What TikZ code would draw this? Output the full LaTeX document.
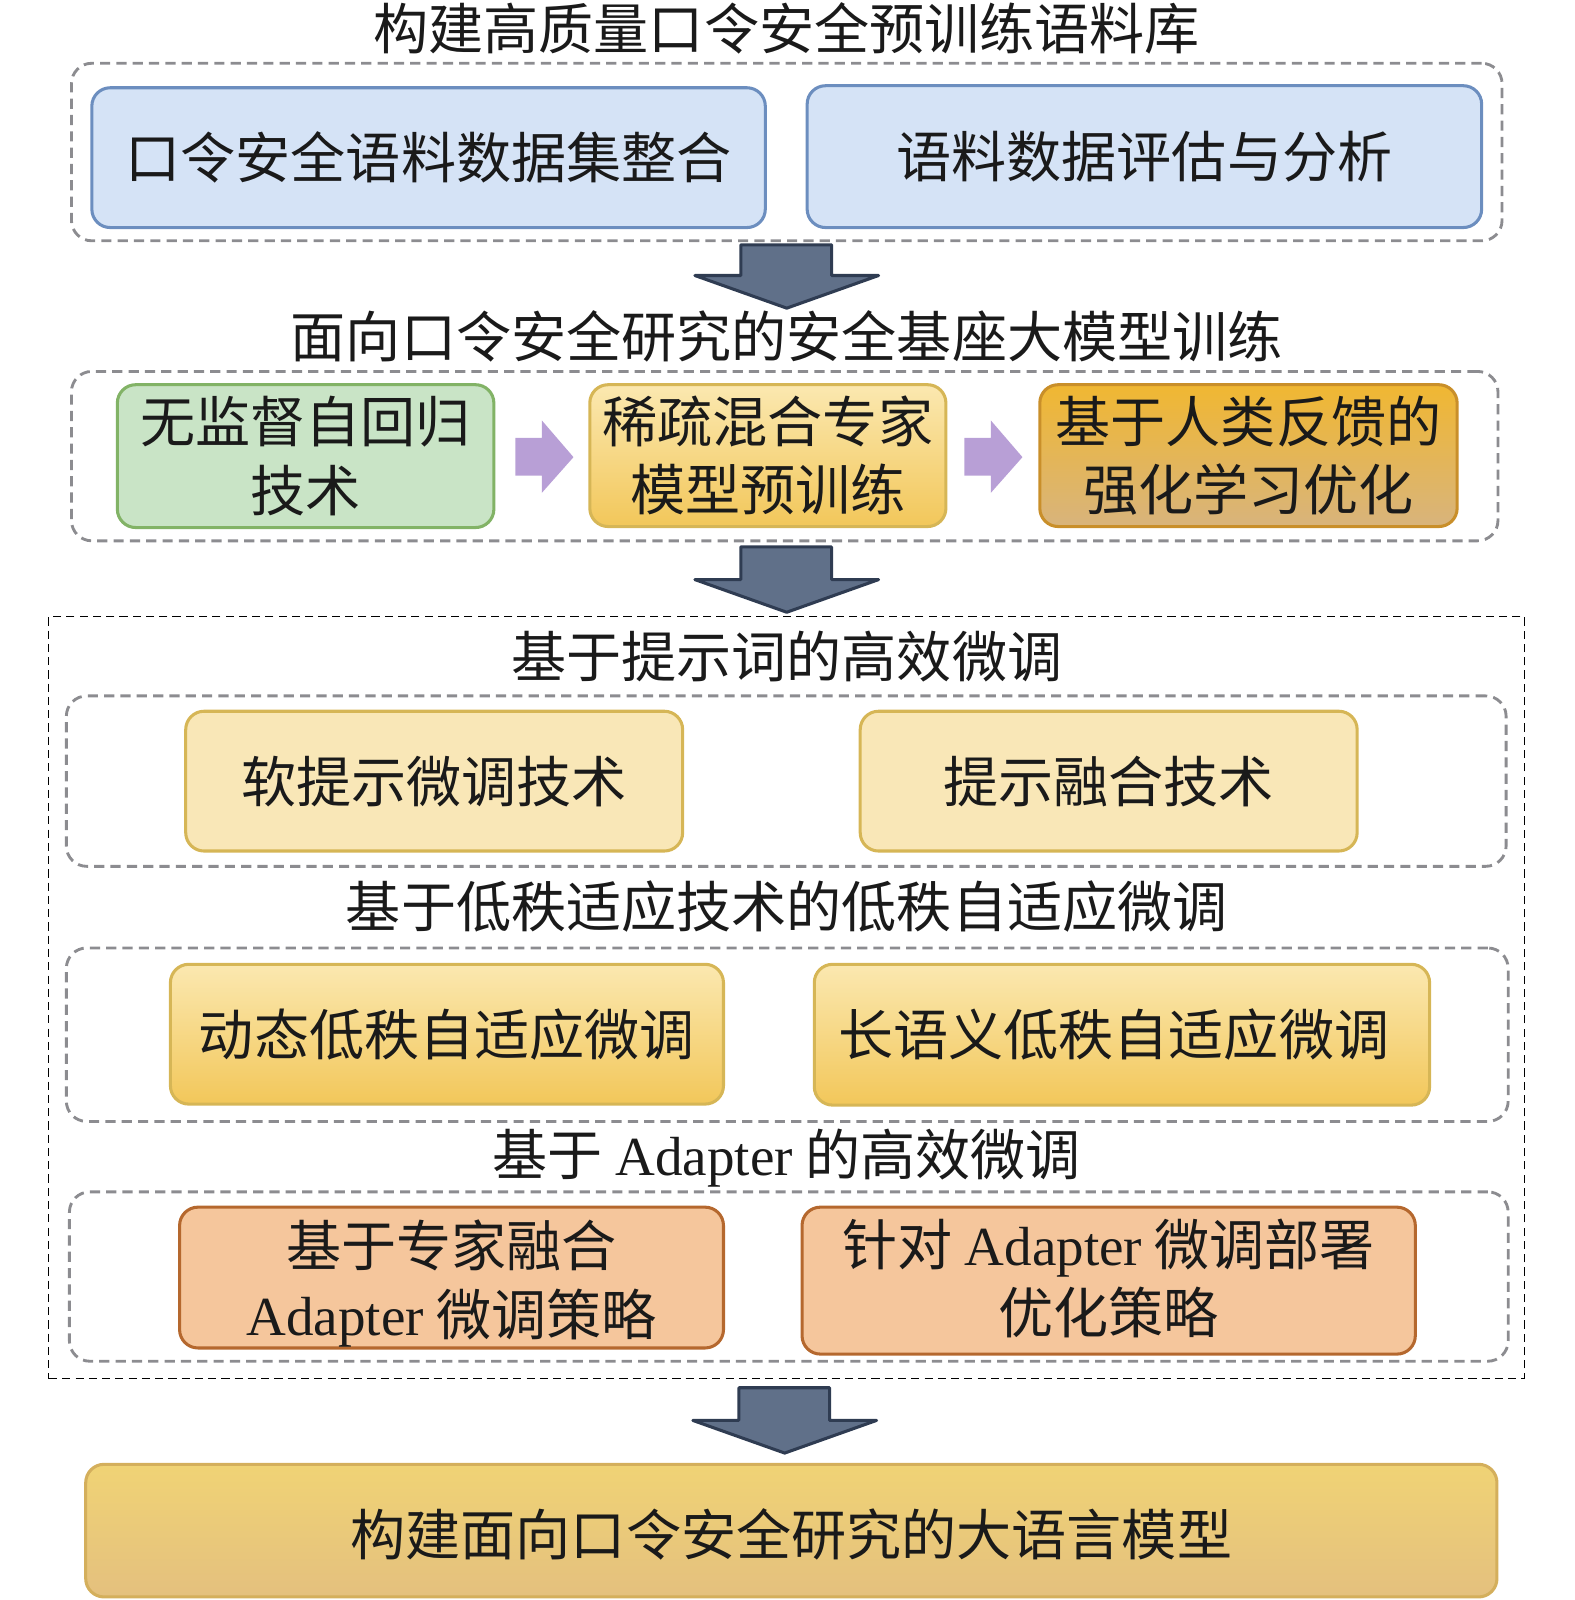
\documentclass[tikz,border=0pt]{standalone}
\usepackage{fontspec}
\setmainfont{Noto Sans CJK SC}
\newfontfamily\lat{Liberation Serif}
\usetikzlibrary{fit}
\definecolor{blueF}{HTML}{D5E3F6}
\definecolor{blueD}{HTML}{6C8EBF}
\definecolor{greenF}{HTML}{C9E4C6}
\definecolor{greenD}{HTML}{82B366}
\definecolor{yelF}{HTML}{F9E7B7}
\definecolor{yelD}{HTML}{D6B656}
\definecolor{yelTop}{HTML}{FBE8B0}
\definecolor{yelBot}{HTML}{F2C75A}
\definecolor{gldTop}{HTML}{F0B732}
\definecolor{gldBot}{HTML}{D8B47C}
\definecolor{gldD}{HTML}{C98F2A}
\definecolor{orgF}{HTML}{F5C69C}
\definecolor{orgD}{HTML}{B5682E}
\definecolor{btmTop}{HTML}{F0D375}
\definecolor{btmBot}{HTML}{E4C07E}
\definecolor{btmD}{HTML}{D4AF5C}
\definecolor{arrF}{HTML}{607089}
\definecolor{arrD}{HTML}{2F3C52}
\definecolor{purF}{HTML}{B89FD6}
\definecolor{grpD}{HTML}{8C8C90}
\definecolor{txt}{HTML}{1A1A1A}
\begin{document}
\begin{tikzpicture}[x=0.5pt,y=-0.5pt,
  txtfont/.style={font=\fontsize{27pt}{33.5pt}\selectfont, text=txt, align=center, inner sep=0pt},
  boxbase/.style={rounded corners=9pt, line width=1.5pt, inner sep=0pt},
  bluebox/.style={boxbase, draw=blueD, fill=blueF},
  greenbox/.style={boxbase, draw=greenD, fill=greenF},
  yelbox/.style={boxbase, draw=yelD, fill=yelF},
  yelgrad/.style={boxbase, draw=yelD, top color=yelTop, bottom color=yelBot},
  gldgrad/.style={boxbase, draw=gldD, top color=gldTop, bottom color=gldBot},
  orgbox/.style={boxbase, draw=orgD, fill=orgF},
  btmbox/.style={boxbase, draw=btmD, top color=btmTop, bottom color=btmBot},
  grpbox/.style={draw=grpD, line width=1.4pt, dash pattern=on 5pt off 3pt, rounded corners=10pt, inner sep=0pt},
  outerbox/.style={draw=black, line width=0.5pt, dash pattern=on 4pt off 2.5pt, inner sep=0pt},
  ttl/.style={txtfont},
  bigarrow/.style={fill=arrF, draw=arrD, line width=1.5pt, line join=round},
  purarrow/.style={fill=purF, draw=none}
]
\useasboundingbox (0,0) rectangle (1543,1568);

% ---------- section 1
\node[ttl] (t1) at (771,28) {构建高质量口令安全预训练语料库};
\coordinate (g1a) at (70,62); \coordinate (g1b) at (1472,236);
\node[grpbox, fit=(g1a)(g1b)] (g1) {};
\coordinate (a1) at (90,86); \coordinate (a2) at (750,223);
\node[bluebox, fit=(a1)(a2)] (bA) {};
\node[txtfont] (bAt) at (bA.center) {口令安全语料数据集整合};
\coordinate (b1) at (791,84); \coordinate (b2) at (1452,223);
\node[bluebox, fit=(b1)(b2)] (bB) {};
\node[txtfont] (bBt) at (bB.center) {语料数据评估与分析};

% big arrow 1
\coordinate (ar1) at (771,240);
\draw[bigarrow] ([xshift=-22.5pt]ar1) -- ([xshift=22pt]ar1) -- ([xshift=22pt,yshift=-15pt]ar1)
  -- ([xshift=45pt,yshift=-15pt]ar1) -- ([yshift=-31pt]ar1) -- ([xshift=-45pt,yshift=-15pt]ar1)
  -- ([xshift=-22.5pt,yshift=-15pt]ar1) -- cycle;

% ---------- section 2
\node[ttl] (t2) at (771,330) {面向口令安全研究的安全基座大模型训练};
\coordinate (g2a) at (70,364); \coordinate (g2b) at (1468,530);
\node[grpbox, fit=(g2a)(g2b)] (g2) {};
\coordinate (c1) at (115,377); \coordinate (c2) at (484,517);
\node[greenbox, fit=(c1)(c2)] (bC) {};
\node[txtfont] (bCt) at (bC.center) {无监督自回归\\技术};
\coordinate (d1) at (578,377); \coordinate (d2) at (927,516);
\node[yelgrad, fit=(d1)(d2)] (bD) {};
\node[txtfont] (bDt) at (bD.center) {稀疏混合专家\\模型预训练};
\coordinate (e1) at (1019,377); \coordinate (e2) at (1428,516);
\node[gldgrad, fit=(e1)(e2)] (bE) {};
\node[txtfont] (bEt) at (bE.center) {基于人类反馈的\\强化学习优化};

% purple arrows
\draw[purarrow] (505,429) -- (531,429) -- (531,412) -- (562,448) -- (531,483) -- (531,466) -- (505,466) -- cycle;
\draw[purarrow] (945,429) -- (971,429) -- (971,412) -- (1002,448) -- (971,483) -- (971,466) -- (945,466) -- cycle;

% big arrow 2
\coordinate (ar2) at (771,536);
\draw[bigarrow] ([xshift=-22.5pt]ar2) -- ([xshift=22pt]ar2) -- ([xshift=22pt,yshift=-16pt]ar2)
  -- ([xshift=45pt,yshift=-16pt]ar2) -- ([yshift=-32pt]ar2) -- ([xshift=-45pt,yshift=-16pt]ar2)
  -- ([xshift=-22.5pt,yshift=-16pt]ar2) -- cycle;

% ---------- outer dashed frame
\coordinate (o1) at (48,604); \coordinate (o2) at (1494,1351);
\node[outerbox, fit=(o1)(o2)] (outer) {};

% section 3
\node[ttl] (t3) at (771,643) {基于提示词的高效微调};
\coordinate (g3a) at (65,682); \coordinate (g3b) at (1476,849);
\node[grpbox, fit=(g3a)(g3b)] (g3) {};
\coordinate (f1) at (182,697); \coordinate (f2) at (669,834);
\node[yelbox, fit=(f1)(f2)] (bF) {};
\node[txtfont] (bFt) at (bF.center) {软提示微调技术};
\coordinate (h1) at (843,697); \coordinate (h2) at (1330,834);
\node[yelbox, fit=(h1)(h2)] (bG) {};
\node[txtfont] (bGt) at (bG.center) {提示融合技术};

% section 4
\node[ttl] (t4) at (771,888) {基于低秩适应技术的低秩自适应微调};
\coordinate (g4a) at (65,929); \coordinate (g4b) at (1478,1099);
\node[grpbox, fit=(g4a)(g4b)] (g4) {};
\coordinate (i1) at (167,945); \coordinate (i2) at (709,1082);
\node[yelgrad, fit=(i1)(i2)] (bH) {};
\node[txtfont] (bHt) at (bH.center) {动态低秩自适应微调};
\coordinate (j1) at (798,945); \coordinate (j2) at (1401,1083);
\node[yelgrad, fit=(j1)(j2)] (bI) {};
\node[txtfont] (bIt) at ([xshift=-4pt]bI.center) {长语义低秩自适应微调};

% section 5
\node[ttl] (t5) at (771,1135) {基于 {\lat Adapter} 的高效微调};
\coordinate (g5a) at (68,1168); \coordinate (g5b) at (1478,1334);
\node[grpbox, fit=(g5a)(g5b)] (g5) {};
\coordinate (k1) at (176,1183); \coordinate (k2) at (709,1321);
\node[orgbox, fit=(k1)(k2)] (bJ) {};
\node[txtfont] (bJt) at ([yshift=-3pt]bJ.center) {基于专家融合\\{\lat Adapter} 微调策略};
\coordinate (l1) at (786,1183); \coordinate (l2) at (1387,1327);
\node[orgbox, fit=(l1)(l2)] (bK) {};
\node[txtfont] (bKt) at ([yshift=1pt]bK.center) {针对 {\lat Adapter} 微调部署\\优化策略};

% big arrow 3
\coordinate (ar3) at (769,1360);
\draw[bigarrow] ([xshift=-22.5pt]ar3) -- ([xshift=22pt]ar3) -- ([xshift=22pt,yshift=-16pt]ar3)
  -- ([xshift=45pt,yshift=-16pt]ar3) -- ([yshift=-32pt]ar3) -- ([xshift=-45pt,yshift=-16pt]ar3)
  -- ([xshift=-22.5pt,yshift=-16pt]ar3) -- cycle;

% bottom box
\coordinate (m1) at (84,1435); \coordinate (m2) at (1467,1565);
\node[btmbox, fit=(m1)(m2)] (bL) {};
\node[txtfont] (bLt) at ([yshift=-2pt]bL.center) {构建面向口令安全研究的大语言模型};
\end{tikzpicture}
\end{document}
